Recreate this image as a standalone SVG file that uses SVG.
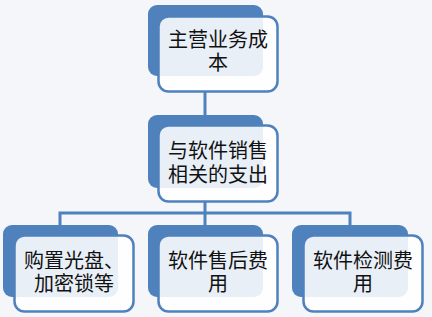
<svg xmlns="http://www.w3.org/2000/svg" width="432" height="317" viewBox="0 0 432 317">
<style>
.back{fill:#4f81bd;}
.front{fill:#ffffff;fill-opacity:0.87;stroke:#4f81bd;stroke-width:2.5;}
.conn{fill:none;stroke:#4f81bd;stroke-width:3;}
text{font-family:"Noto Sans CJK SC","Noto Sans CJK TC",sans-serif;font-size:20px;fill:#111111;text-anchor:middle;}
</style>
<rect x="0" y="0" width="432" height="317" fill="#f4f6f9"/>
<g id="connectors">
<line class="conn" x1="205" y1="92" x2="205" y2="126"/>
<polyline class="conn" points="205,202 205,213"/>
<polyline class="conn" points="60,226 60,213 350,213 350,226"/>
<line class="conn" x1="205" y1="213" x2="205" y2="226"/>
</g>
<g id="node1">
<rect class="back" x="148" y="5" width="115" height="71" rx="9"/>
<rect class="front" x="158.5" y="16.5" width="119" height="75" rx="10"/>
<text x="218" y="47"><tspan x="218" y="47">主营业务成</tspan><tspan x="218" y="70">本</tspan></text>
</g>
<g id="node2">
<rect class="back" x="148" y="115" width="115" height="73" rx="9"/>
<rect class="front" x="158.5" y="125.5" width="119" height="76" rx="10"/>
<text x="218" y="158"><tspan x="218" y="158">与软件销售</tspan><tspan x="218" y="182">相关的支出</tspan></text>
</g>
<g id="node3">
<rect class="back" x="3" y="225" width="115" height="72" rx="9"/>
<rect class="front" x="14.5" y="235.5" width="119" height="76" rx="10"/>
<text x="74" y="268"><tspan x="74" y="268">购置光盘、</tspan><tspan x="74" y="291">加密锁等</tspan></text>
</g>
<g id="node4">
<rect class="back" x="148" y="225" width="115" height="72" rx="9"/>
<rect class="front" x="158.5" y="235.5" width="119" height="76" rx="10"/>
<text x="218" y="268"><tspan x="218" y="268">软件售后费</tspan><tspan x="218" y="291">用</tspan></text>
</g>
<g id="node5">
<rect class="back" x="292" y="225" width="116" height="72" rx="9"/>
<rect class="front" x="303.5" y="235.5" width="119" height="76" rx="10"/>
<text x="363" y="268"><tspan x="363" y="268">软件检测费</tspan><tspan x="363" y="291">用</tspan></text>
</g>
</svg>
